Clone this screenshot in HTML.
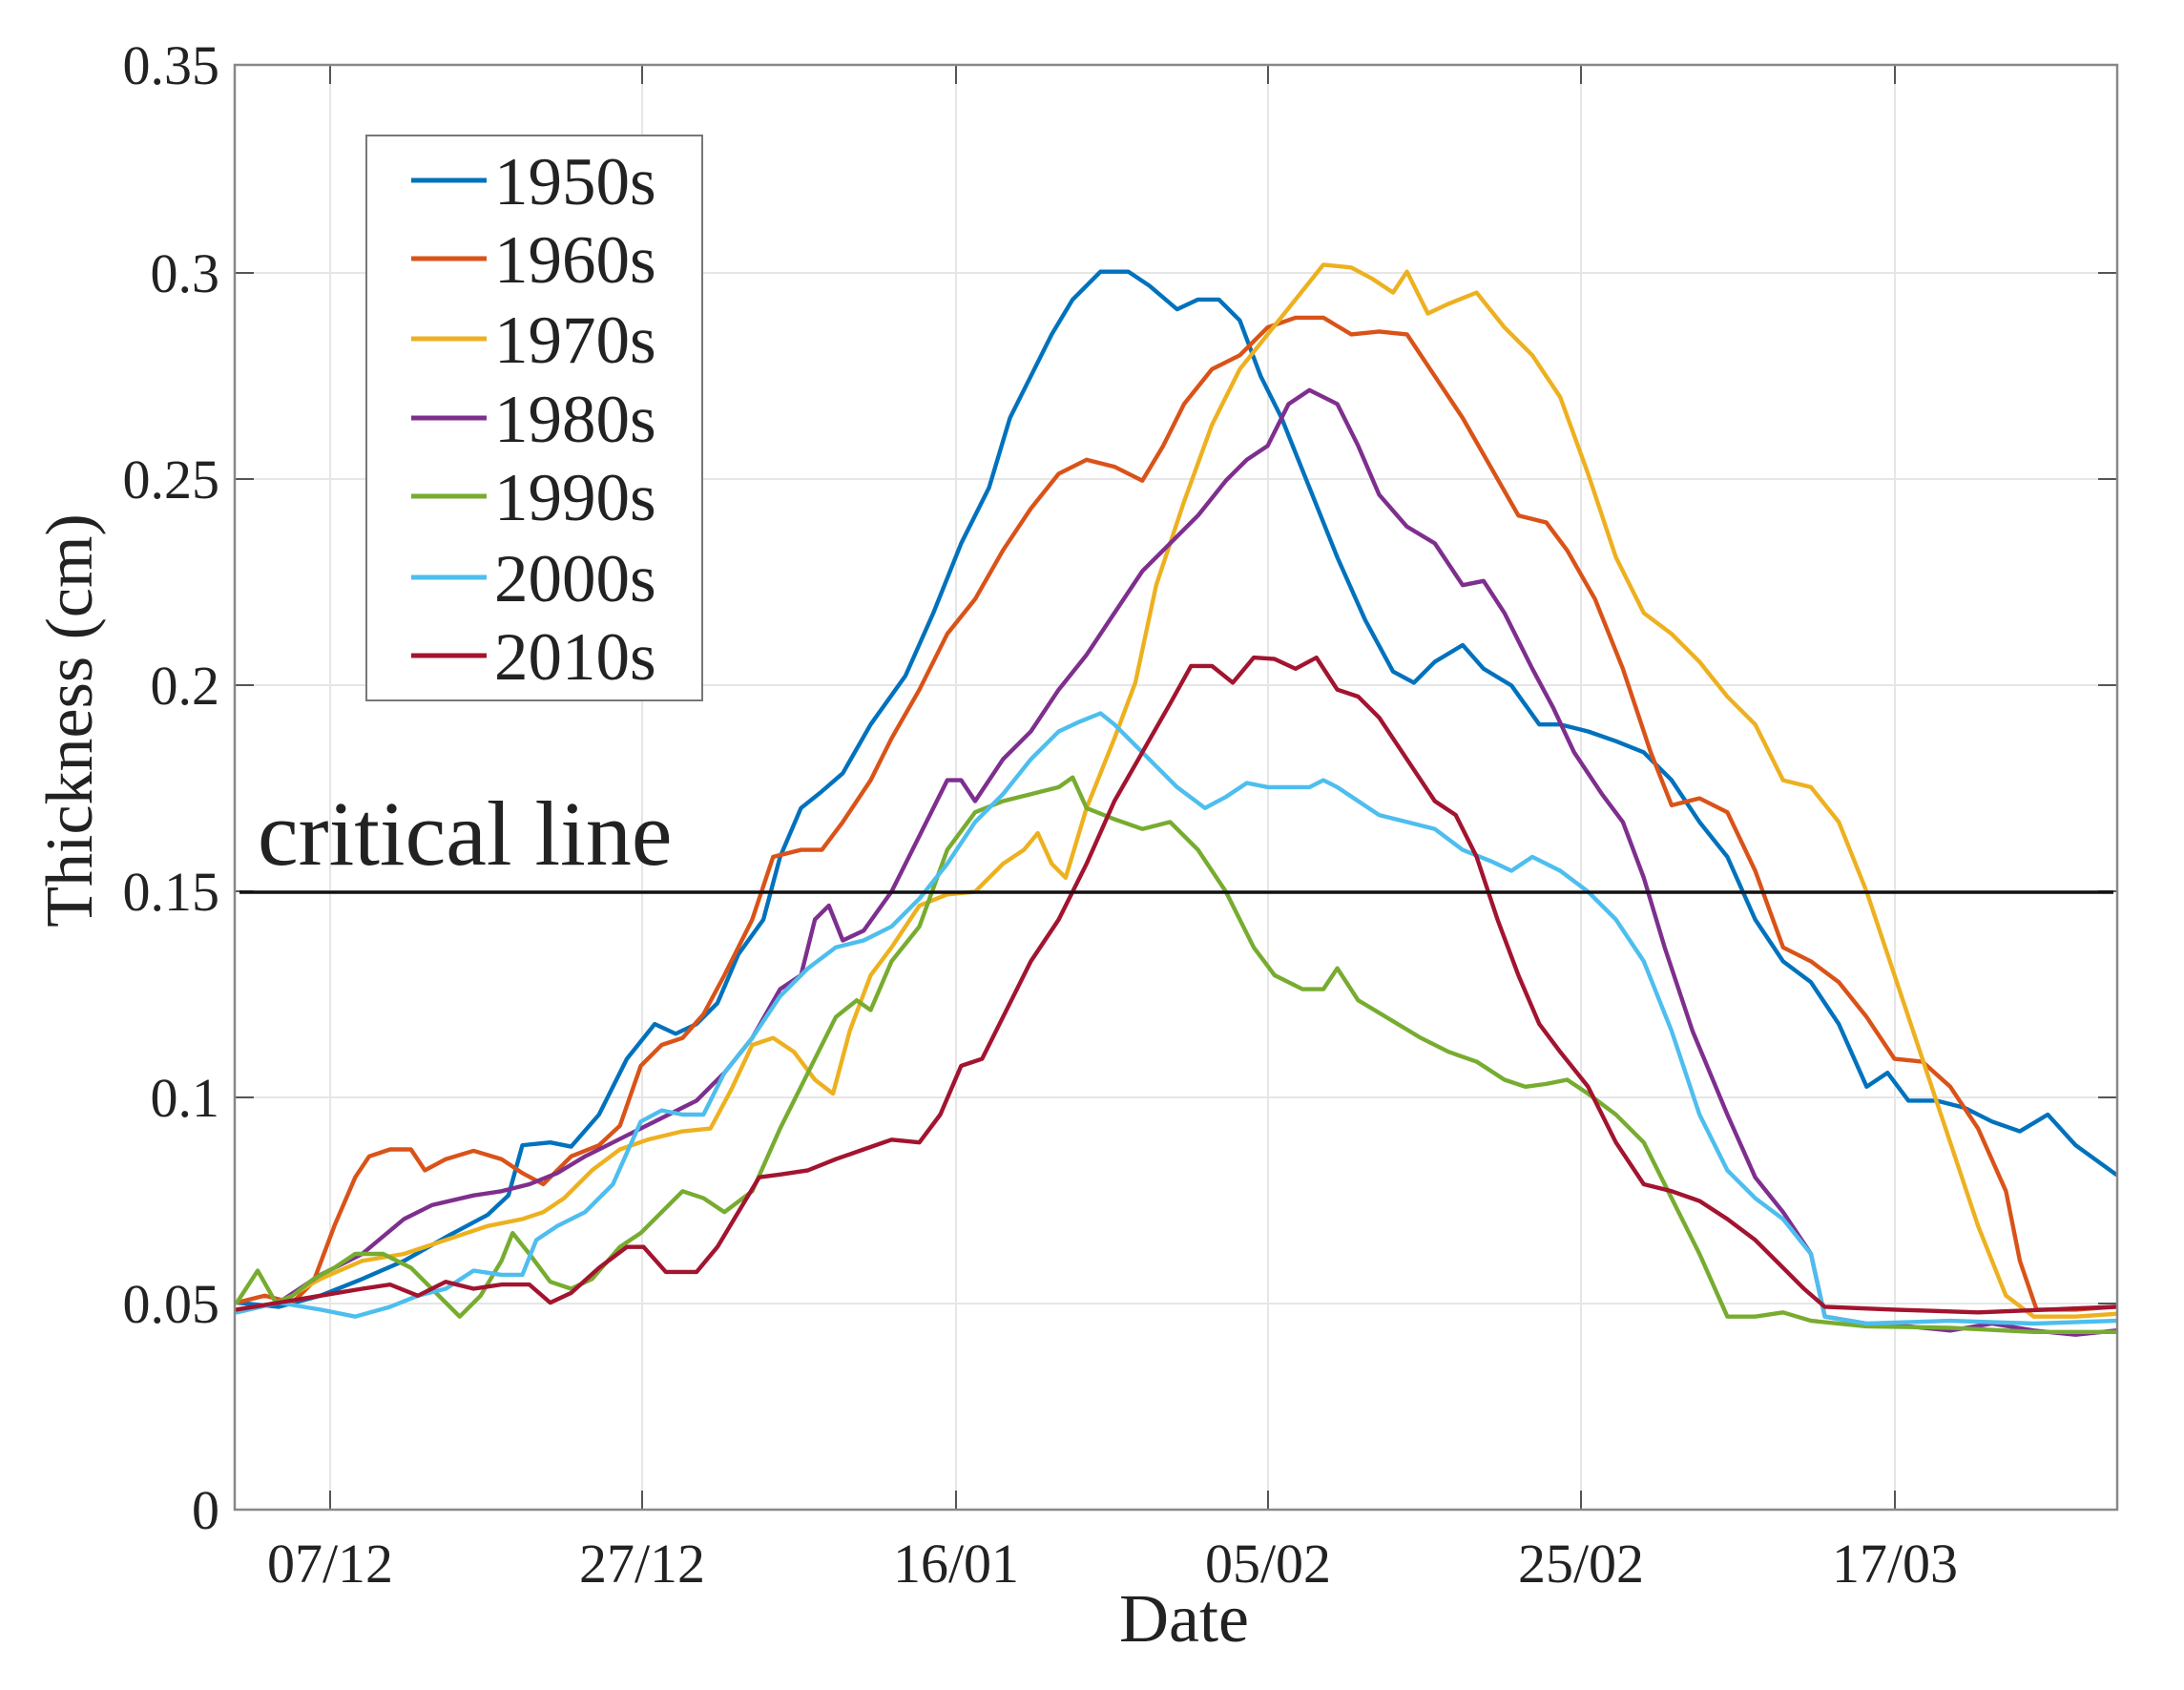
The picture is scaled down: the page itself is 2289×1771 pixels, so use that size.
<!DOCTYPE html>
<html><head><meta charset="utf-8"><style>
html,body{margin:0;padding:0;background:#fff;}
svg{display:block;}
text{font-family:"Liberation Serif",serif;fill:#222;}
</style></head><body>
<svg width="2289" height="1771" viewBox="0 0 2289 1771" xmlns="http://www.w3.org/2000/svg">
<rect width="2289" height="1771" fill="#fff"/>
<g stroke="#e6e6e6" stroke-width="2">
<line x1="346" y1="68" x2="346" y2="1582"/><line x1="673" y1="68" x2="673" y2="1582"/>
<line x1="1002" y1="68" x2="1002" y2="1582"/><line x1="1329" y1="68" x2="1329" y2="1582"/>
<line x1="1657" y1="68" x2="1657" y2="1582"/><line x1="1986" y1="68" x2="1986" y2="1582"/>
<line x1="246" y1="286" x2="2219" y2="286"/><line x1="246" y1="502" x2="2219" y2="502"/>
<line x1="246" y1="718" x2="2219" y2="718"/><line x1="246" y1="934" x2="2219" y2="934"/>
<line x1="246" y1="1150" x2="2219" y2="1150"/><line x1="246" y1="1366" x2="2219" y2="1366"/>
</g>
<g stroke="#555" stroke-width="2">
<line x1="346" y1="1582" x2="346" y2="1562"/><line x1="673" y1="1582" x2="673" y2="1562"/>
<line x1="1002" y1="1582" x2="1002" y2="1562"/><line x1="1329" y1="1582" x2="1329" y2="1562"/>
<line x1="1657" y1="1582" x2="1657" y2="1562"/><line x1="1986" y1="1582" x2="1986" y2="1562"/>
<line x1="346" y1="68" x2="346" y2="88"/><line x1="673" y1="68" x2="673" y2="88"/>
<line x1="1002" y1="68" x2="1002" y2="88"/><line x1="1329" y1="68" x2="1329" y2="88"/>
<line x1="1657" y1="68" x2="1657" y2="88"/><line x1="1986" y1="68" x2="1986" y2="88"/>
<line x1="246" y1="286" x2="266" y2="286"/><line x1="246" y1="502" x2="266" y2="502"/>
<line x1="246" y1="718" x2="266" y2="718"/><line x1="246" y1="934" x2="266" y2="934"/>
<line x1="246" y1="1150" x2="266" y2="1150"/><line x1="246" y1="1366" x2="266" y2="1366"/>
<line x1="2219" y1="286" x2="2199" y2="286"/><line x1="2219" y1="502" x2="2199" y2="502"/>
<line x1="2219" y1="718" x2="2199" y2="718"/><line x1="2219" y1="934" x2="2199" y2="934"/>
<line x1="2219" y1="1150" x2="2199" y2="1150"/><line x1="2219" y1="1366" x2="2199" y2="1366"/>
</g>
<g transform="scale(1.46)" fill="none" stroke-width="3" stroke-linejoin="round" stroke-linecap="round">
<polyline stroke="#0072BD" points="170,935 200,938 230,930 260,918 290,905 320,888 350,872 365,858 375,822 395,820 410,823 430,800 450,760 470,735 485,742 500,735 515,720 530,685 548,660 560,615 575,580 590,568 605,555 625,520 650,485 670,440 690,390 710,350 725,300 740,270 755,240 770,215 790,195 810,195 825,205 845,222 860,215 875,215 890,230 905,270 920,300 940,350 960,400 980,445 1000,482 1015,490 1030,475 1050,463 1065,480 1085,492 1105,520 1120,520 1140,525 1160,532 1180,540 1200,560 1220,590 1240,615 1260,660 1280,690 1300,705 1320,735 1340,780 1355,770 1370,790 1390,790 1410,795 1430,805 1450,812 1470,800 1490,822 1519,843"/>
<polyline stroke="#D95319" points="170,935 190,930 210,935 225,920 240,880 255,845 265,830 280,825 295,825 305,840 320,832 340,826 360,832 375,842 390,850 410,830 430,822 445,808 460,765 475,750 490,745 505,728 520,700 540,660 555,615 575,610 590,610 605,590 625,560 640,530 660,495 680,455 700,430 720,395 740,365 760,340 780,330 800,335 820,345 835,320 850,290 870,265 890,255 910,235 930,228 950,228 970,240 990,238 1010,240 1030,270 1050,300 1070,335 1090,370 1110,375 1125,395 1145,430 1165,480 1185,540 1200,578 1220,573 1240,583 1260,625 1280,680 1300,690 1320,705 1340,730 1360,760 1380,762 1400,780 1420,810 1440,855 1450,905 1462,940 1490,940 1519,938"/>
<polyline stroke="#EDB120" points="170,940 200,935 230,918 260,905 290,900 320,890 350,880 375,875 390,870 405,860 425,840 445,825 465,818 490,812 510,810 525,782 540,750 555,745 570,755 585,775 598,785 610,740 625,700 640,680 660,650 680,642 700,640 720,620 735,610 745,598 755,620 765,630 780,580 800,530 815,490 830,420 850,360 870,305 890,265 910,240 930,215 950,190 970,192 985,200 1000,210 1010,195 1025,225 1040,218 1060,210 1080,235 1100,255 1120,285 1140,340 1160,400 1180,440 1200,455 1220,475 1240,500 1260,520 1280,560 1300,565 1320,590 1340,640 1360,700 1380,760 1400,820 1420,880 1440,930 1460,945 1490,945 1519,943"/>
<polyline stroke="#7E2F8E" points="170,940 200,935 230,915 260,900 290,875 310,865 340,858 360,855 380,850 400,842 420,830 440,820 460,810 480,800 500,790 520,770 540,745 560,710 575,700 585,660 595,650 605,675 620,668 640,640 660,600 680,560 690,560 700,575 720,545 740,525 760,495 780,470 800,440 820,410 840,390 860,370 880,345 895,330 910,320 925,290 940,280 960,290 975,320 990,355 1010,378 1030,390 1050,420 1065,417 1080,440 1100,480 1115,508 1130,540 1150,570 1165,590 1180,630 1195,680 1215,740 1240,800 1260,845 1280,870 1300,900 1310,945 1340,950 1370,952 1400,955 1430,950 1460,955 1490,958 1519,955"/>
<polyline stroke="#77AC30" points="170,935 185,912 198,935 210,930 225,918 240,910 255,900 275,900 295,910 315,930 330,945 345,930 360,905 368,885 380,900 395,920 410,925 425,918 445,895 460,885 475,870 490,855 505,860 520,870 540,855 560,810 580,770 600,730 615,718 625,725 640,690 660,665 680,610 700,583 720,575 740,570 760,565 770,558 780,580 800,588 820,595 840,590 860,610 880,640 900,680 915,700 935,710 950,710 960,695 975,718 995,730 1020,745 1040,755 1060,762 1080,775 1095,780 1110,778 1125,775 1140,785 1160,800 1180,820 1200,860 1220,900 1240,945 1260,945 1280,942 1300,948 1340,952 1400,953 1460,956 1519,956"/>
<polyline stroke="#4DBEEE" points="170,942 200,935 230,940 255,945 280,938 300,930 320,925 340,912 360,915 375,915 385,890 400,880 420,870 440,850 460,805 475,797 490,800 505,800 520,770 540,745 560,715 580,695 600,680 620,675 640,665 660,645 680,620 700,590 720,570 740,545 760,525 775,518 790,512 800,520 815,535 830,550 845,565 865,580 880,572 895,562 910,565 925,565 940,565 950,560 960,565 975,575 990,585 1010,590 1030,595 1050,610 1070,618 1085,625 1100,615 1120,625 1140,640 1160,660 1180,690 1200,740 1220,800 1240,840 1260,860 1280,875 1300,900 1310,945 1340,950 1400,948 1460,950 1519,948"/>
<polyline stroke="#A2142F" points="170,940 200,935 230,930 260,925 280,922 300,930 320,920 340,925 360,922 380,922 395,935 410,928 430,910 450,895 462,895 478,913 500,913 515,895 530,870 545,845 560,843 580,840 600,832 620,825 640,818 660,820 675,800 690,765 705,760 720,730 740,690 760,660 780,620 800,575 820,540 840,505 855,478 870,478 885,490 900,472 915,473 930,480 945,472 960,495 975,500 990,515 1010,545 1030,575 1045,585 1060,615 1075,660 1090,700 1105,735 1120,755 1140,780 1160,820 1180,850 1200,855 1220,862 1240,875 1260,890 1280,910 1295,925 1310,938 1360,940 1420,942 1519,938"/>
</g>
<line x1="251" y1="935" x2="2215" y2="935" stroke="#111" stroke-width="3.5"/>
<text x="270" y="906" font-size="96">critical line</text>
<rect x="246" y="68" width="1973" height="1514" fill="none" stroke="#888" stroke-width="2.5"/>
<g font-size="58" text-anchor="end">
<text x="230" y="88">0.35</text><text x="230" y="306">0.3</text><text x="230" y="522">0.25</text>
<text x="230" y="738">0.2</text><text x="230" y="954">0.15</text><text x="230" y="1170">0.1</text>
<text x="230" y="1386">0.05</text><text x="230" y="1602">0</text>
</g>
<g font-size="58" text-anchor="middle">
<text x="346" y="1658">07/12</text><text x="673" y="1658">27/12</text><text x="1002" y="1658">16/01</text>
<text x="1329" y="1658">05/02</text><text x="1657" y="1658">25/02</text><text x="1986" y="1658">17/03</text>
</g>
<text x="1241" y="1720" font-size="72" text-anchor="middle">Date</text>
<text transform="translate(96,755) rotate(-90)" font-size="70" text-anchor="middle">Thickness (cm)</text>
<rect x="384" y="142" width="352" height="592" fill="#fff" stroke="#777" stroke-width="2"/>
<g stroke-width="5">
<line x1="431" y1="189" x2="510" y2="189" stroke="#0072BD"/>
<line x1="431" y1="271" x2="510" y2="271" stroke="#D95319"/>
<line x1="431" y1="355" x2="510" y2="355" stroke="#EDB120"/>
<line x1="431" y1="438" x2="510" y2="438" stroke="#7E2F8E"/>
<line x1="431" y1="520" x2="510" y2="520" stroke="#77AC30"/>
<line x1="431" y1="605" x2="510" y2="605" stroke="#4DBEEE"/>
<line x1="431" y1="687" x2="510" y2="687" stroke="#A2142F"/>
</g>
<g font-size="71" fill="#111">
<text x="518" y="214">1950s</text><text x="518" y="296">1960s</text><text x="518" y="380">1970s</text>
<text x="518" y="463">1980s</text><text x="518" y="545">1990s</text><text x="518" y="630">2000s</text>
<text x="518" y="712">2010s</text>
</g>
</svg>
</body></html>
